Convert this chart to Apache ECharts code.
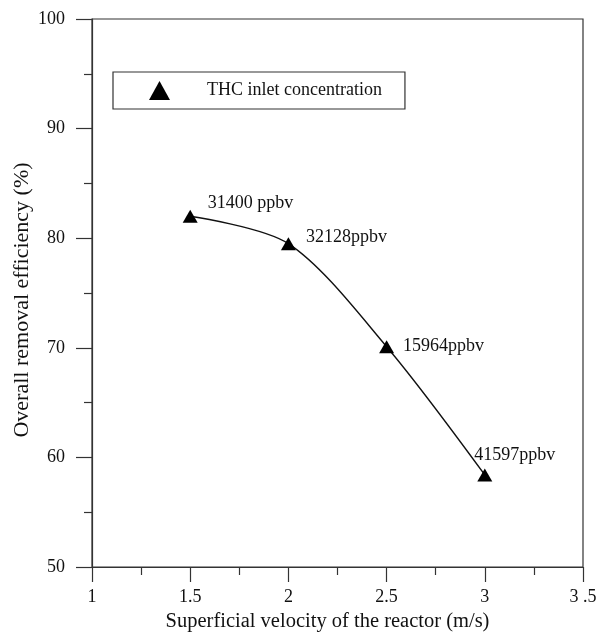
<!DOCTYPE html>
<html>
<head>
<meta charset="utf-8">
<script src="https://cdn.jsdelivr.net/npm/echarts@6/dist/echarts.min.js"></script>
<style>
  html, body { margin: 0; padding: 0; background: #fff; }
  #main { width: 596px; height: 632px; }
</style>
</head>
<body>
<div id="main"></div>
<script>
// data
var velocity = [1.5, 2, 2.5, 3]
var efficiency = [82.0, 79.5, 70.1, 58.4]
var concLabels = ['31400 ppbv', '32128ppbv', '15964ppbv', '41597ppbv']
var xTickLabels = { 1: '1', 1.5: '1.5', 2: '2', 2.5: '2.5', 3: '3', 3.5: '3 .5' }

var serif = '"Liberation Serif", "DejaVu Serif", serif'
var ink = '#333'

// label offsets so the text sits where it does in the figure
var labelOffsets = [[5, -13], [5, -6], [4, 0], [-23, -20]]

var points = velocity.map(function (v, i) {
  return {
    value: [v, efficiency[i]],
    label: { offset: labelOffsets[i] }
  }
})

var myChart = echarts.init(document.getElementById('main'))
myChart.setOption({
  animation: false,
  textStyle: { fontFamily: serif },
  grid: {
    left: 92,
    right: 13,
    top: 19,
    bottom: 65,
    outerBoundsMode: 'none',
    show: true,
    borderColor: ink,
    borderWidth: 1.2
  },
  legend: {
    left: 113,
    top: 72,
    padding: [9, 23, 9, 36],
    borderColor: ink,
    borderWidth: 1.2,
    itemWidth: 21,
    itemHeight: 19,
    icon: 'triangle',
    textStyle: {
      fontFamily: serif,
      fontSize: 18,
      color: '#111',
      padding: [0, 0, 0, 32]
    },
    data: ['THC inlet concentration']
  },
  xAxis: {
    type: 'value',
    min: 1,
    max: 3.5,
    interval: 0.5,
    name: 'Superficial velocity of the reactor (m/s)',
    nameLocation: 'middle',
    nameGap: 44,
    nameTextStyle: { fontFamily: serif, fontSize: 20.5, color: '#111', padding: [0, 20, 0, 0] },
    axisLine: { lineStyle: { color: ink, width: 1.2 } },
    axisTick: { show: true, length: 15, lineStyle: { color: ink, width: 1.2 } },
    minorTick: { show: true, splitNumber: 2, length: 8, lineStyle: { color: ink, width: 1.2 } },
    splitLine: { show: false },
    axisLabel: {
      margin: 21,
      fontFamily: serif,
      fontSize: 18,
      color: '#111',
      formatter: function (v) { return xTickLabels[v] !== undefined ? xTickLabels[v] : v }
    }
  },
  yAxis: {
    type: 'value',
    min: 50,
    max: 100,
    interval: 10,
    name: 'Overall removal efficiency (%)',
    nameLocation: 'middle',
    nameGap: 59,
    nameMoveOverlap: false,
    nameTextStyle: { fontFamily: serif, fontSize: 22, color: '#111', padding: [0, 14, 0, 0] },
    axisLine: { lineStyle: { color: ink, width: 1.2 } },
    axisTick: { show: true, length: 16, lineStyle: { color: ink, width: 1.2 } },
    minorTick: { show: true, splitNumber: 2, length: 8, lineStyle: { color: ink, width: 1.2 } },
    splitLine: { show: false },
    axisLabel: {
      margin: 27,
      fontFamily: serif,
      fontSize: 18,
      color: '#111'
    }
  },
  series: [
    {
      name: 'THC inlet concentration',
      type: 'line',
      smooth: 0.3,
      symbol: 'triangle',
      symbolSize: [15, 13],
      itemStyle: { color: '#000' },
      lineStyle: { color: '#111', width: 1.4 },
      label: {
        show: true,
        position: 'right',
        distance: 5,
        fontFamily: serif,
        fontSize: 18,
        color: '#111',
        formatter: function (p) { return concLabels[p.dataIndex] }
      },
      data: points
    }
  ]
})
</script>
</body>
</html>
